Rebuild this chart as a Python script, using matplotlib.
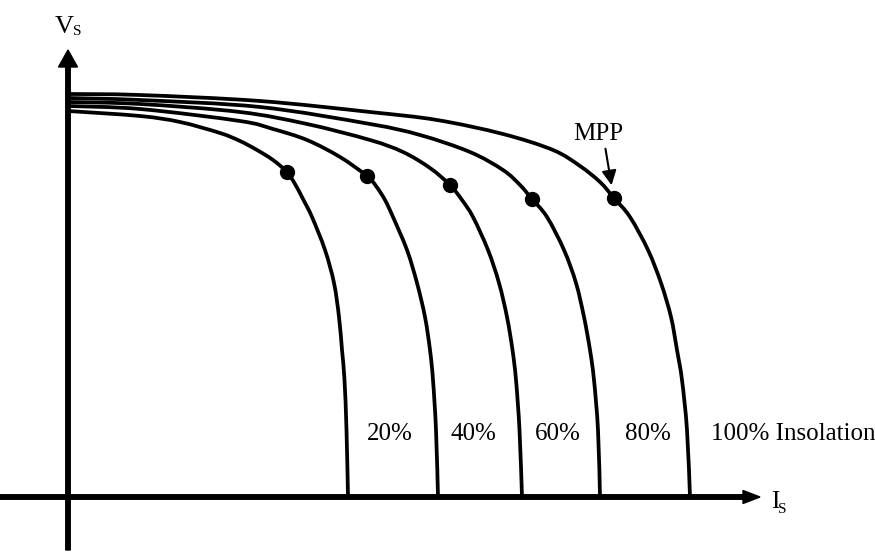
import matplotlib.pyplot as plt
import numpy as np
from matplotlib.path import Path
from matplotlib.patches import PathPatch


FONT = 'Liberation Serif'

# I-V curves of a PV array at several insolation levels (arbitrary units).
# Each curve runs from open circuit (I=0) down to short circuit (V=0).
i_100 = [0.00, 0.72, 1.92, 3.02, 3.69, 4.35, 4.85, 5.12, 5.32, 5.46, 5.62, 5.80, 5.93, 6.03, 6.09, 6.14, 6.19, 6.22]
v_100 = [4.03, 4.02, 3.96, 3.85, 3.77, 3.63, 3.47, 3.31, 3.15, 2.99, 2.80, 2.47, 2.14, 1.80, 1.47, 1.17, 0.67, 0.00]

i_80 = [0.00, 0.72, 1.92, 3.02, 3.52, 4.02, 4.35, 4.52, 4.64, 4.79, 4.96, 5.08, 5.16, 5.22, 5.26, 5.30, 5.32]
v_80 = [3.99, 3.97, 3.90, 3.73, 3.62, 3.45, 3.27, 3.12, 2.98, 2.80, 2.47, 2.14, 1.80, 1.47, 1.17, 0.67, 0.00]

i_60 = [0.00, 0.72, 1.72, 2.39, 3.02, 3.35, 3.62, 3.82, 3.94, 4.05, 4.20, 4.31, 4.39, 4.445, 4.48, 4.515, 4.54]
v_60 = [3.95, 3.93, 3.85, 3.73, 3.57, 3.45, 3.29, 3.12, 2.97, 2.80, 2.47, 2.14, 1.80, 1.47, 1.17, 0.67, 0.00]

i_40 = [0.00, 0.72, 1.72, 2.05, 2.39, 2.72, 2.99, 3.08, 3.17, 3.25, 3.39, 3.49, 3.57, 3.62, 3.65, 3.68, 3.70]
v_40 = [3.91, 3.88, 3.76, 3.68, 3.57, 3.40, 3.21, 3.11, 2.97, 2.80, 2.47, 2.14, 1.80, 1.47, 1.17, 0.67, 0.00]

i_20 = [0.00, 0.72, 1.12, 1.52, 1.72, 1.89, 2.05, 2.19, 2.27, 2.35, 2.44, 2.57, 2.66, 2.71, 2.74, 2.765, 2.785, 2.80]
v_20 = [3.86, 3.81, 3.75, 3.64, 3.56, 3.47, 3.37, 3.25, 3.13, 2.98, 2.80, 2.47, 2.14, 1.80, 1.47, 1.17, 0.67, 0.00]

curves = [(i_20, v_20), (i_40, v_40), (i_60, v_60), (i_80, v_80), (i_100, v_100)]

# maximum power points, 20% .. 100%
mpp_i = [2.19, 2.99, 3.82, 4.64, 5.46]
mpp_v = [3.25, 3.21, 3.12, 2.98, 2.99]

labels = ['20%', '40%', '60%', '80%', '100% Insolation']
label_x = [3.22, 4.05, 4.90, 5.80, 6.43]


def smooth_path(xs, ys):
    """Catmull-Rom style cubic Bezier path running through every point."""
    p = np.column_stack([xs, ys])
    n = len(p)
    verts = [p[0]]
    codes = [Path.MOVETO]
    for k in range(n - 1):
        p0 = p[max(k - 1, 0)]
        p1 = p[k]
        p2 = p[k + 1]
        p3 = p[min(k + 2, n - 1)]
        c1 = p1 + (p2 - p0) / 6.0
        c2 = p2 - (p3 - p1) / 6.0
        verts += [c1, c2, p2]
        codes += [Path.CURVE4] * 3
    return Path(verts, codes)


fig = plt.figure(figsize=(8.75, 5.54), dpi=100)
ax = fig.add_axes([0, 0, 1, 1])
ax.set_xlim(-0.68, 8.07)
ax.set_ylim(-0.57, 4.97)
ax.axis('off')

# Axes drawn as arrows
ax.arrow(-0.68, 0, 7.60, 0, width=0.045, head_width=0.13, head_length=0.17,
         length_includes_head=True, fc='k', ec='k')
ax.arrow(0, -0.53, 0, 5.00, width=0.045, head_width=0.19, head_length=0.17,
         length_includes_head=True, fc='k', ec='k')

for i, v in curves:
    ax.add_patch(PathPatch(smooth_path(i, v), fill=False, ec='k', lw=2.7,
                           capstyle='butt', joinstyle='round'))

ax.plot(mpp_i, mpp_v, 'o', color='k', markersize=10)

for x, s in zip(label_x, labels):
    ha = 'left' if 'Insolation' in s else 'center'
    ax.text(x, 0.57, s, ha=ha, va='baseline', fontsize=18, family=FONT)

# MPP callout
ax.text(5.30, 3.57, 'MPP', ha='center', va='baseline', fontsize=18, family=FONT)
ax.annotate('', xy=(5.44, 3.09), xytext=(5.37, 3.51),
            arrowprops=dict(arrowstyle='-|>', color='k', lw=1.5, mutation_scale=22))

# Axis names with subscripts
ax.text(-0.13, 4.64, 'V', ha='left', va='baseline', fontsize=19, family=FONT)
ax.text(0.05, 4.62, 'S', ha='left', va='baseline', fontsize=11, family=FONT)
ax.text(7.03, -0.11, 'I', ha='left', va='baseline', fontsize=18, family=FONT)
ax.text(7.10, -0.16, 'S', ha='left', va='baseline', fontsize=11, family=FONT)

fig.savefig('out.png', dpi=100)
